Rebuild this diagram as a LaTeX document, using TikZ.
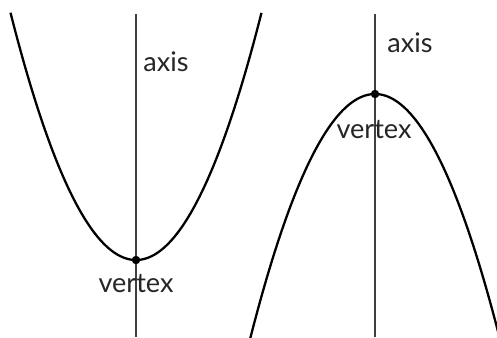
\documentclass[tikz,border=0pt]{standalone}
\usepackage{fontspec}
\setmainfont{Lato}
\usepackage{xcolor}
\usepackage{tikz}
\usetikzlibrary{positioning,calc}

\begin{document}
\begin{tikzpicture}[
  curve/.style={black,line width=1.3pt},
  axisline/.style={black!75,line width=1.4pt},
  lbl/.style={text=black!85,font=\fontsize{15.4}{18}\selectfont,inner sep=0pt},
  vdot/.style={circle,fill=black,inner sep=0pt,minimum size=4.8pt}]
  \useasboundingbox (0,0) rectangle (9.94,6.74);
  \clip (0,0) rectangle (9.94,6.74);

  % Opening upward
  \coordinate (v1pos) at (2.72,1.54);
  \coordinate (a1top) at (2.72,6.46);
  \coordinate (a1bot) at (2.72,0);
  \draw[axisline] (a1bot) -- (a1top);
  \draw[curve] plot[domain=-2.51:2.51,samples=90]
    ({2.72+\x},{1.54+0.785*\x*\x});
  \node[vdot] (v1) at (v1pos) {};

  % Opening downward
  \coordinate (v2pos) at (7.50,4.86);
  \coordinate (a2top) at (7.50,6.46);
  \coordinate (a2bot) at (7.50,0);
  \draw[axisline] (a2bot) -- (a2top);
  \draw[curve] plot[domain=-2.52:2.52,samples=90]
    ({7.50+\x},{4.86-0.785*\x*\x});
  \node[vdot] (v2) at (v2pos) {};

  % Labels
  \node[lbl,anchor=base west] (ax1) at ($(a1top)+(0.14,-1.14)$) {axis};
  \node[lbl,anchor=base west] (ax2) at ($(a2top)+(0.24,-0.76)$) {axis};
  \node[lbl,anchor=base] (vx1) at ($(v1)+(0,-0.64)$) {vertex};
  \node[lbl,anchor=base] (vx2) at ($(v2)+(-0.02,-0.88)$) {vertex};
\end{tikzpicture}
\end{document}
